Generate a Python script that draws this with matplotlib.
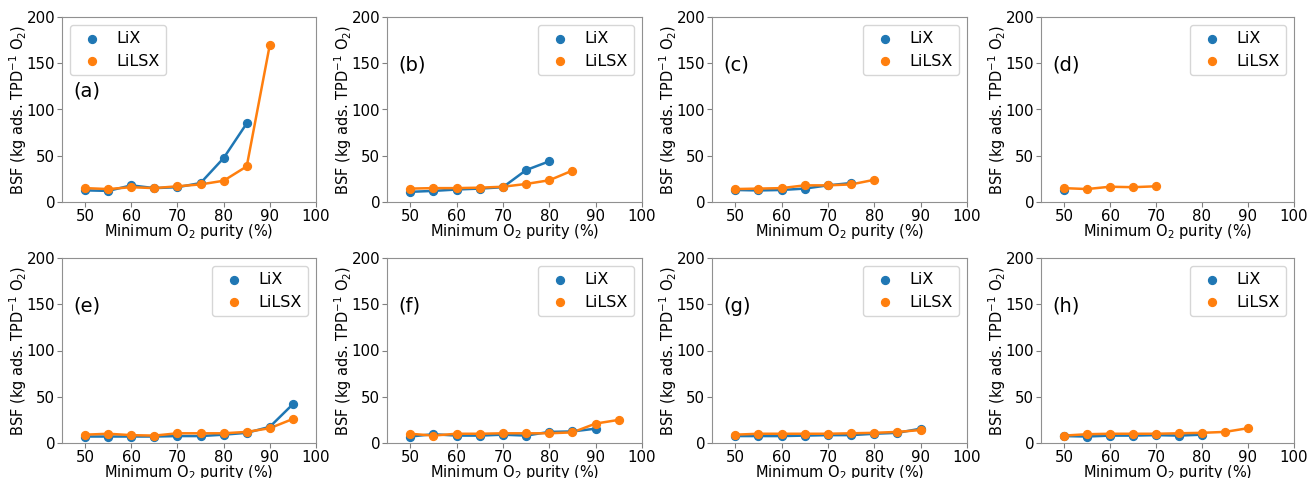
import matplotlib.pyplot as plt

# minimum O2 purity (%) and BSF values per panel
x_lix = {
    "a": [50, 55, 60, 65, 70, 75, 80, 85],
    "b": [50, 55, 60, 65, 70, 75, 80],
    "c": [50, 55, 60, 65, 70, 75],
    "d": [50],
    "e": [50, 55, 60, 65, 70, 75, 80, 85, 90, 95],
    "f": [50, 55, 60, 65, 70, 75, 80, 85, 90],
    "g": [50, 55, 60, 65, 70, 75, 80, 85, 90],
    "h": [50, 55, 60, 65, 70, 75, 80],
}
y_lix = {
    "a": [12.6, 12, 18, 15, 16, 20.5, 47.5, 85],
    "b": [11, 12, 13.5, 14.5, 16, 34.5, 44],
    "c": [13, 12.5, 13, 14.5, 18, 20.5],
    "d": [13.5],
    "e": [7, 7, 7, 7, 7.5, 7.5, 9, 11, 17.5, 42],
    "f": [7, 9.5, 8, 8, 9, 8, 12, 12.5, 15.5],
    "g": [7.5, 7.5, 7.5, 8, 8.5, 8.5, 10, 11, 15.5],
    "h": [7.5, 7, 8, 8, 8.5, 8, 9],
}
x_lilsx = {
    "a": [50, 55, 60, 65, 70, 75, 80, 85, 90],
    "b": [50, 55, 60, 65, 70, 75, 80, 85],
    "c": [50, 55, 60, 65, 70, 75, 80],
    "d": [50, 55, 60, 65, 70],
    "e": [50, 55, 60, 65, 70, 75, 80, 85, 90, 95],
    "f": [50, 55, 60, 65, 70, 75, 80, 85, 90, 95],
    "g": [50, 55, 60, 65, 70, 75, 80, 85, 90],
    "h": [50, 55, 60, 65, 70, 75, 80, 85, 90],
}
y_lilsx = {
    "a": [15, 14, 16, 15, 17, 19, 23, 38.5, 170],
    "b": [14.5, 15, 15, 15.5, 16.5, 19.5, 23.5, 34],
    "c": [14, 14.5, 15, 18, 18, 19, 24],
    "d": [15, 14, 16.5, 16, 17],
    "e": [9, 10, 8.5, 8, 10.5, 10.5, 10.5, 12, 16, 26],
    "f": [10, 8, 10, 10, 10.5, 10.5, 10.5, 11.5, 21, 25],
    "g": [9, 10, 10, 10, 10, 10.5, 11, 12, 14],
    "h": [8, 9.5, 10, 10, 10, 10.5, 11, 12, 16],
}
panels = ["a", "b", "c", "d", "e", "f", "g", "h"]

W, H = 1308, 478
fig = plt.figure(figsize=(W / 100, H / 100), dpi=100)

lefts = [62, 387, 712, 1041]
rights = [316, 642, 967, 1294]
tops = [17, 258]
ax_h = 185

blue = "#1f77b4"
orange = "#ff7f0e"

for i, p in enumerate(panels):
    row, col = divmod(i, 4)
    ax_w = rights[col] - lefts[col]
    ax = fig.add_axes([lefts[col] / W, 1 - (tops[row] + ax_h) / H,
                       ax_w / W, ax_h / H])
    ax.plot(x_lix[p], y_lix[p], color=blue, lw=1.8, zorder=2)
    ax.scatter(x_lix[p], y_lix[p], color=blue, s=32, zorder=3, label="LiX")
    ax.plot(x_lilsx[p], y_lilsx[p], color=orange, lw=1.8, zorder=2)
    ax.scatter(x_lilsx[p], y_lilsx[p], color=orange, s=32, zorder=3, label="LiLSX")

    ax.set_xlim(45, 100)
    ax.set_ylim(0, 200)
    ax.set_xticks([50, 60, 70, 80, 90, 100])
    ax.set_yticks([0, 50, 100, 150, 200])
    ax.tick_params(labelsize=10.8, color="#808080", pad=1.5)
    for s in ax.spines.values():
        s.set_color("#909090")
    ax.set_xlabel("Minimum O$_2$ purity (%)", fontsize=10.5, va="center")
    ax.xaxis.set_label_coords(0.5, -0.16)
    ax.set_ylabel("BSF (kg ads. TPD$^{-1}$ O$_2$)", fontsize=10.5, va="center")
    ax.yaxis.set_label_coords(-44.0 / ax_w, 0.5)

    loc = "upper left" if p == "a" else "upper right"
    ax.legend(loc=loc, fontsize=11.5, borderpad=0.4, handletextpad=0.5,
              labelspacing=0.45, edgecolor="#cccccc")
    ty = 0.6 if p == "a" else 0.74
    ax.text(0.045, ty, "(%s)" % p, transform=ax.transAxes, fontsize=14, va="center")

fig.savefig("out.png", dpi=100)
